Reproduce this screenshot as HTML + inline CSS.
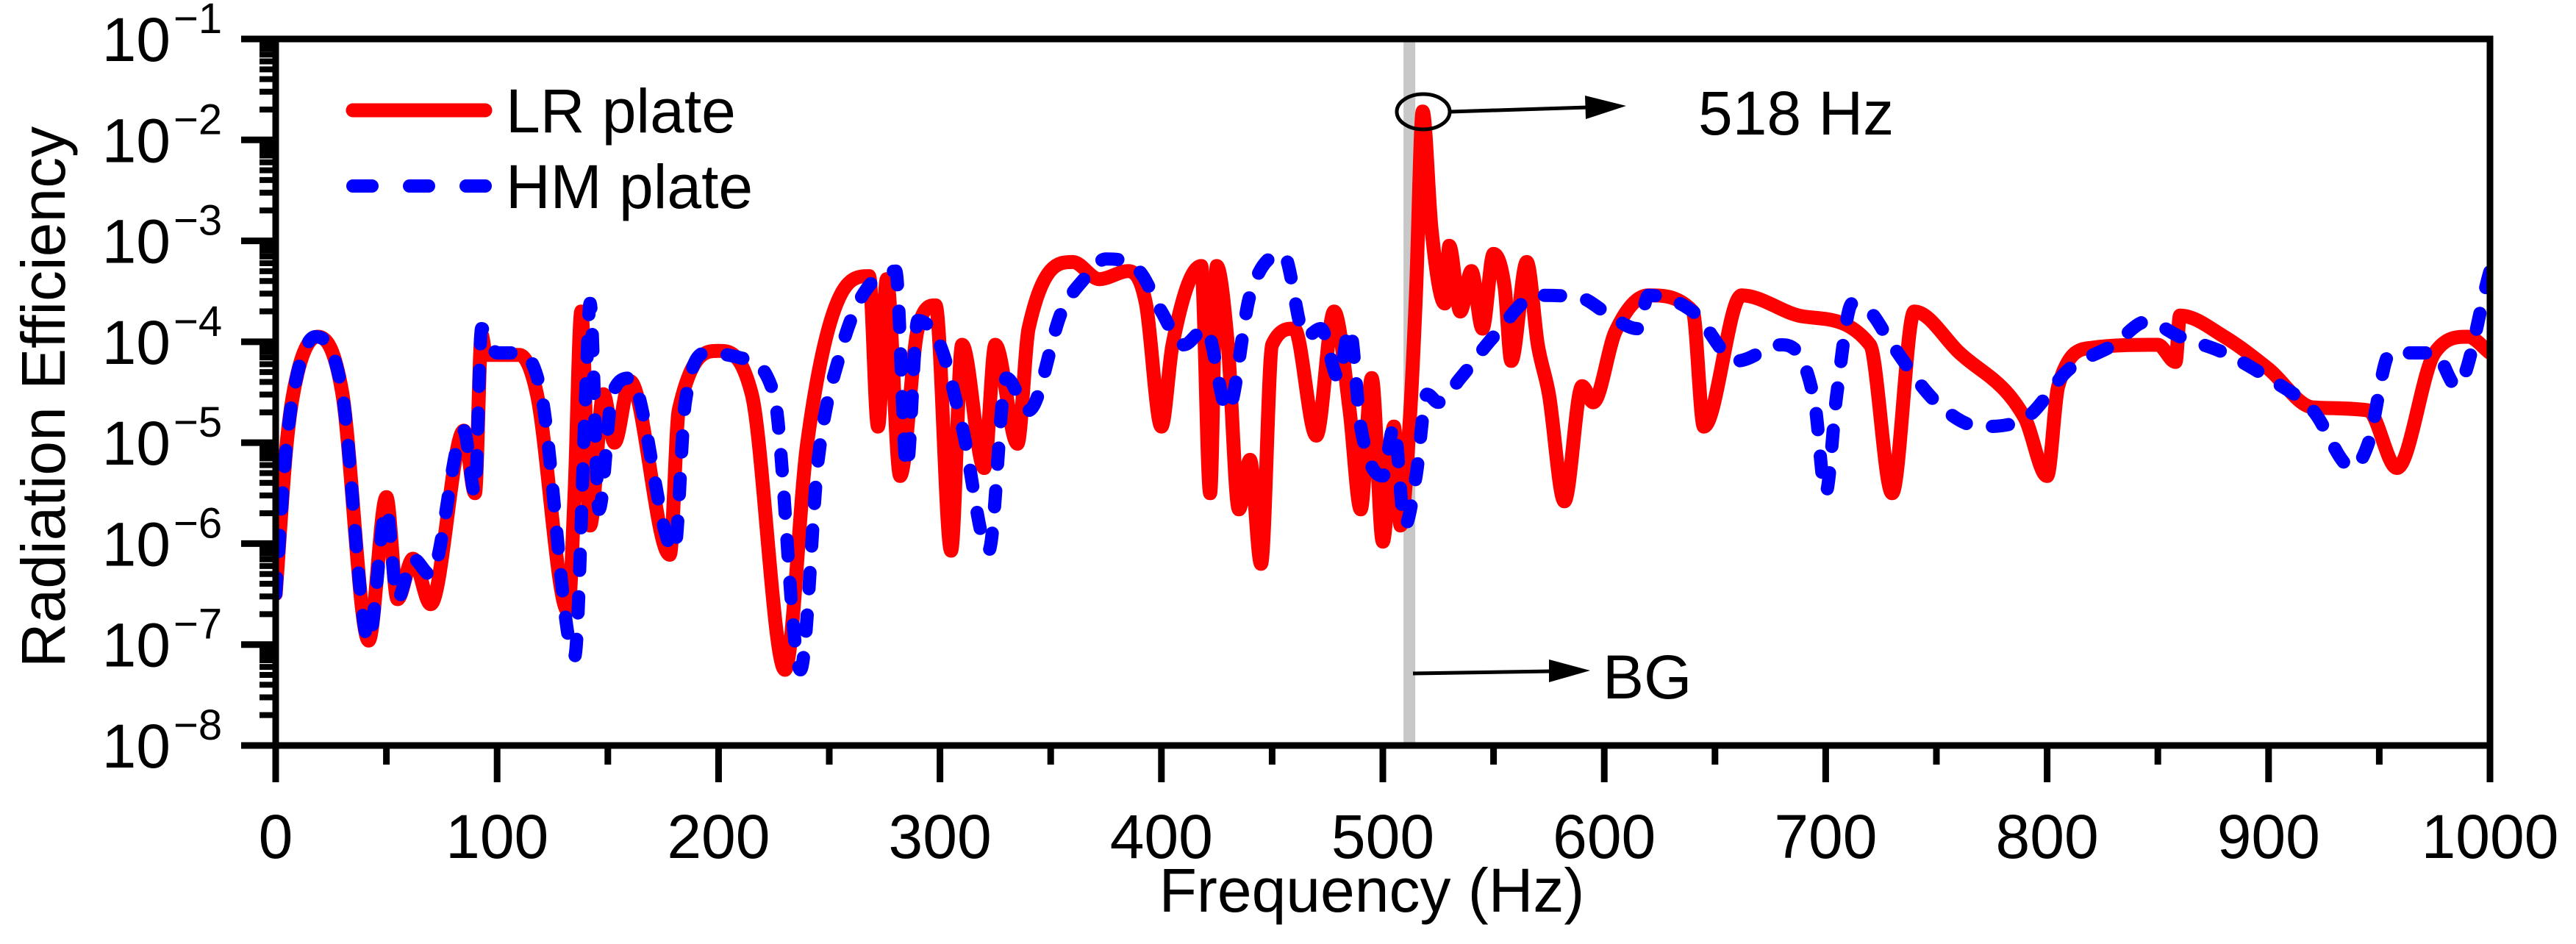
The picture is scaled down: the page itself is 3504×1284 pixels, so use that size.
<!DOCTYPE html>
<html><head><meta charset="utf-8"><style>
html,body{margin:0;padding:0;background:#fff;}
svg{display:block;font-family:"Liberation Sans",Arial,sans-serif;}
</style></head><body>
<svg id="chart" xmlns="http://www.w3.org/2000/svg" width="3504" height="1284" viewBox="0 0 3504 1284">
<defs><clipPath id="plotclip"><rect x="375" y="53" width="3012" height="961"/></clipPath></defs>
<g id="plot"></g>
</svg>
<script>
// ---- data ----
const xTicks = [0,100,200,300,400,500,600,700,800,900,1000];
const yExps = [-1,-2,-3,-4,-5,-6,-7,-8];
const lrFreq = [0,5,10,19,30,42,50,55,62,70,85,90,93,95,110,118,132,135,138,142,148,153,160,178,182,200,215,230,240,255,268,272,276,282,290,298,305,310,320,325,335,340,360,372,385,393,400,405,418,422,425,430,435,440,445,450,460,470,478,485,490,495,500,505,508,512,515,518,522,528,530,535,540,545,550,555,558,565,570,575,582,590,595,605,620,640,645,662,690,720,730,740,760,790,800,805,820,850,858,860,880,900,920,945,958,975,990,1000];
const lrLog = [-6.5,-5.0,-4.3,-3.95,-4.5,-6.96,-5.54,-6.55,-6.15,-6.6,-4.88,-5.5,-3.93,-4.13,-4.13,-4.52,-6.67,-5.5,-3.7,-5.82,-4.52,-5.0,-4.39,-6.11,-4.68,-4.09,-4.52,-7.25,-5.01,-3.54,-3.35,-4.84,-3.38,-5.33,-3.87,-3.64,-6.07,-4.03,-5.25,-4.03,-5.01,-3.87,-3.21,-3.38,-3.30,-3.62,-4.84,-4.03,-3.25,-5.5,-3.25,-4.03,-5.66,-5.17,-6.2,-4.03,-3.87,-4.93,-3.70,-4.68,-5.66,-4.36,-5.98,-4.84,-5.82,-4.84,-3.5,-1.72,-2.89,-3.62,-3.05,-3.70,-3.30,-3.87,-3.13,-3.46,-4.19,-3.21,-4.03,-4.52,-5.58,-4.44,-4.60,-3.9,-3.54,-3.70,-4.84,-3.54,-3.75,-4.03,-5.5,-3.70,-4.1,-4.76,-5.33,-4.44,-4.06,-4.03,-4.2,-3.74,-3.95,-4.27,-4.65,-4.68,-5.25,-4.11,-3.95,-4.11];
const hmFreq = [0,5,10,18,30,42,50,55,62,70,85,90,93,100,110,120,135,140,142,146,152,160,180,185,195,210,225,237,245,255,265,280,285,290,300,310,322,330,340,355,365,375,390,400,410,420,430,440,455,465,472,480,485,490,500,505,510,515,520,525,535,550,570,590,600,615,620,640,660,680,695,700,705,712,720,730,750,770,790,810,830,845,860,880,900,920,938,945,955,975,985,1000];
const hmLog = [-6.5,-5.0,-4.3,-3.95,-4.5,-6.96,-5.66,-6.55,-6.15,-6.31,-4.88,-5.5,-3.87,-4.11,-4.11,-4.52,-7.12,-4.52,-3.62,-5.66,-4.52,-4.36,-6.07,-4.60,-4.11,-4.16,-4.52,-7.25,-5.17,-4.11,-3.54,-3.30,-5.25,-3.79,-4.03,-4.84,-6.07,-4.36,-4.68,-3.70,-3.38,-3.18,-3.30,-3.70,-4.03,-3.87,-4.68,-3.54,-3.13,-3.95,-3.87,-4.36,-3.87,-4.84,-5.33,-4.84,-5.82,-5.33,-4.52,-4.60,-4.36,-3.95,-3.54,-3.57,-3.70,-3.87,-3.54,-3.70,-4.19,-4.03,-4.60,-5.5,-4.52,-3.62,-3.70,-4.03,-4.60,-4.84,-4.76,-4.27,-4.03,-3.80,-3.95,-4.11,-4.36,-4.68,-5.25,-5.01,-4.11,-4.11,-4.44,-3.30];
// ---- layout ----
const X0=375,X1=3387,Y0=53,Y1=1014;
const NS="http://www.w3.org/2000/svg";
function xs(f){return X0+(f/1000)*(X1-X0);}
function ys(e){return Y0+((-1-e)/7)*(Y1-Y0);}
const plot=document.getElementById('plot');
function mk(tag,attrs,parent){const el=document.createElementNS(NS,tag);for(const k in attrs)el.setAttribute(k,attrs[k]);(parent||plot).appendChild(el);return el;}

// monotone cubic path
function smoothPath(fr,lg){
  const X=fr.map(xs),Y=lg.map(ys),n=X.length;
  const d=[],m=new Array(n);
  for(let i=0;i<n-1;i++)d.push((Y[i+1]-Y[i])/(X[i+1]-X[i]));
  m[0]=d[0];m[n-1]=d[n-2];
  for(let i=1;i<n-1;i++){m[i]=(d[i-1]*d[i]<=0)?0:(d[i-1]+d[i])/2;}
  for(let i=0;i<n-1;i++){
    if(d[i]===0){m[i]=0;m[i+1]=0;continue;}
    const a=m[i]/d[i],b=m[i+1]/d[i],s=a*a+b*b;
    if(s>9){const t=3/Math.sqrt(s);m[i]=t*a*d[i];m[i+1]=t*b*d[i];}
  }
  let p='M'+X[0].toFixed(1)+','+Y[0].toFixed(1);
  for(let i=0;i<n-1;i++){
    const h=(X[i+1]-X[i])/3;
    p+=' C'+(X[i]+h).toFixed(1)+','+(Y[i]+m[i]*h).toFixed(1)+' '+(X[i+1]-h).toFixed(1)+','+(Y[i+1]-m[i+1]*h).toFixed(1)+' '+X[i+1].toFixed(1)+','+Y[i+1].toFixed(1);
  }
  return p;
}

// BG band
const band=mk('rect',{x:xs(512)-8,y:Y0,width:16,height:Y1-Y0,fill:'#c8c8c8'});



// series
const curves=mk('g',{'clip-path':'url(#plotclip)'});


const lr=mk('path',{d:smoothPath(lrFreq,lrLog),fill:'none',stroke:'#ff0000','stroke-width':19,'stroke-linejoin':'round','stroke-linecap':'round'},curves);


const hm=mk('path',{d:smoothPath(hmFreq,hmLog),fill:'none',stroke:'#0000ff','stroke-width':18,'stroke-dasharray':'22 36','stroke-linejoin':'round','stroke-linecap':'round'},curves);



// axes box
const box=mk('rect',{x:X0,y:Y0,width:X1-X0,height:Y1-Y0,fill:'none',stroke:'#000','stroke-width':9});



// x ticks
for(let f=0;f<=1000;f+=50){
  const major=f%100===0;
  const t=mk('line',{x1:xs(f),x2:xs(f),y1:Y1,y2:Y1+(major?50:26),stroke:'#000','stroke-width':9});
  
  
}
xTicks.forEach(v=>{
  const t=mk('text',{x:xs(v),y:1167,'font-size':84,'text-anchor':'middle',fill:'#000'});
  t.textContent=String(v);
  
  
});
// y ticks
yExps.forEach(e=>{
  const t=mk('line',{x1:X0-47,x2:X0,y1:ys(e),y2:ys(e),stroke:'#000','stroke-width':9});
  
  
  const lab=mk('text',{x:232,y:ys(e)+30,'font-size':84,'text-anchor':'end',fill:'#000'});
  lab.textContent='10';
  
  
  const sup=mk('text',{x:236,y:ys(e)-8,'font-size':58,fill:'#000'});
  sup.textContent='\u2212'+String(-e);
  
  
  if(e>-8){for(let m=2;m<=9;m++){
    const yy=ys(e-1+Math.log10(m));
    const mt=mk('line',{x1:X0-22,x2:X0,y1:yy,y2:yy,stroke:'#000','stroke-width':8});
    
    
  }}
});
// axis titles
const xt=mk('text',{x:1866,y:1240,'font-size':84,'text-anchor':'middle',fill:'#000'});
xt.textContent='Frequency (Hz)';


const yt=mk('text',{x:0,y:0,'font-size':84,'text-anchor':'middle',fill:'#000',transform:'translate(88,540) rotate(-90)'});
yt.textContent='Radiation Efficiency';



// legend
const lg=mk('g',{});


const l1=mk('line',{x1:480,x2:660,y1:150,y2:150,stroke:'#ff0000','stroke-width':19,'stroke-linecap':'round'},lg);


const t1=mk('text',{x:688,y:180,'font-size':84,fill:'#000'},lg);
t1.textContent='LR plate';


const l2=mk('line',{x1:480,x2:660,y1:253,y2:253,stroke:'#0000ff','stroke-width':18,'stroke-dasharray':'26 51','stroke-linecap':'round'},lg);


const t2=mk('text',{x:688,y:283,'font-size':84,fill:'#000'},lg);
t2.textContent='HM plate';



// annotations
const el=mk('ellipse',{cx:1936,cy:152,rx:36,ry:24,fill:'none',stroke:'#000','stroke-width':5});


const a1=mk('line',{x1:1972,y1:152,x2:2160,y2:146,stroke:'#000','stroke-width':5});


const h1=mk('polygon',{points:'2212,144 2156,130 2157,162',fill:'#000'});


const pt=mk('text',{x:2310,y:183,'font-size':84,fill:'#000'});
pt.textContent='518 Hz';


const a2=mk('line',{x1:1922,y1:916,x2:2110,y2:913,stroke:'#000','stroke-width':5});


const h2=mk('polygon',{points:'2163,912 2107,897 2107,928',fill:'#000'});


const bt=mk('text',{x:2180,y:950,'font-size':84,fill:'#000'});
bt.textContent='BG';


</script>
</body></html>
